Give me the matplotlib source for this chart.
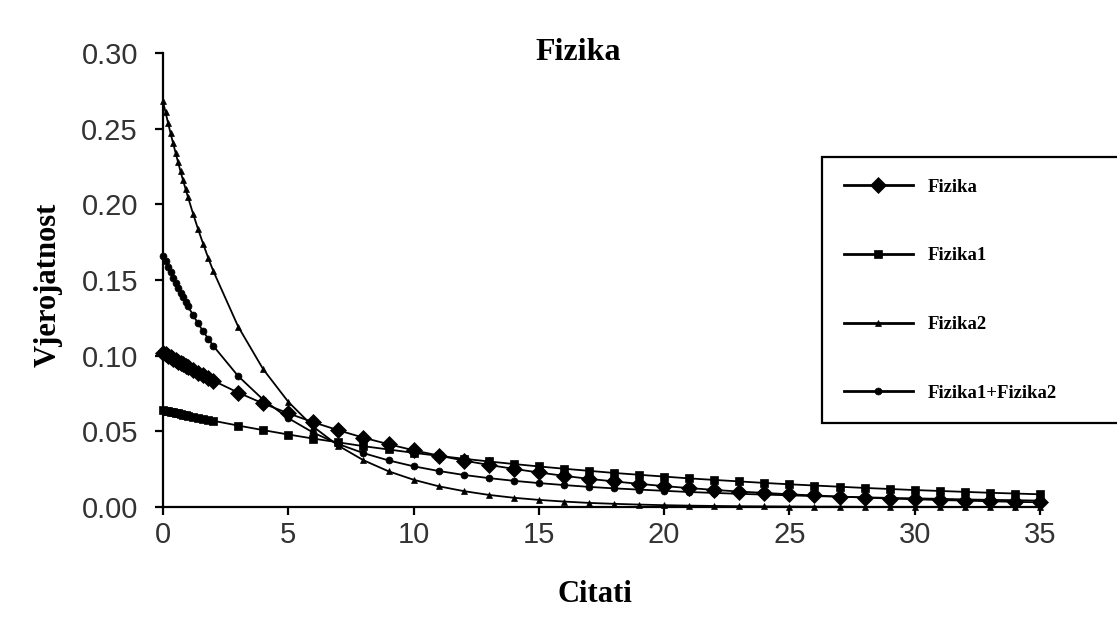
import matplotlib

matplotlib.use("Agg")
import matplotlib.pyplot as plt
from matplotlib.ticker import FormatStrFormatter

# ----------------------------------------------------------------------
# Data
# ----------------------------------------------------------------------
citati = [0, 0.1, 0.2, 0.3, 0.4, 0.5, 0.6, 0.7, 0.8, 0.9, 1.0,
          1.2, 1.4, 1.6, 1.8, 2.0,
          3, 4, 5, 6, 7, 8, 9, 10, 11, 12, 13, 14, 15, 16, 17, 18, 19,
          20, 21, 22, 23, 24, 25, 26, 27, 28, 29, 30, 31, 32, 33, 34, 35]

fizika = [0.1020, 0.1010, 0.0998, 0.0990, 0.0980, 0.0970, 0.0961, 0.0951,
          0.0942, 0.0932, 0.0923,
          0.0905, 0.0887, 0.0869, 0.0852, 0.0835,
          0.0756, 0.0684, 0.0619, 0.0560, 0.0507, 0.0458, 0.0415, 0.0375,
          0.0340, 0.0307, 0.0278, 0.0252, 0.0228, 0.0206, 0.0186, 0.0169,
          0.0153, 0.0138, 0.0125, 0.0113, 0.0102, 0.0093, 0.0084, 0.0076,
          0.0069, 0.0062, 0.0056, 0.0051, 0.0046, 0.0042, 0.0038, 0.0034,
          0.0031]

fizika1 = [0.0640, 0.0636, 0.0633, 0.0629, 0.0625, 0.0622, 0.0618, 0.0615,
           0.0611, 0.0607, 0.0604,
           0.0597, 0.0590, 0.0583, 0.0577, 0.0570,
           0.0538, 0.0508, 0.0479, 0.0452, 0.0427, 0.0402, 0.0380, 0.0358,
           0.0338, 0.0319, 0.0301, 0.0284, 0.0268, 0.0253, 0.0239, 0.0225,
           0.0213, 0.0201, 0.0189, 0.0179, 0.0169, 0.0159, 0.0150, 0.0142,
           0.0134, 0.0126, 0.0119, 0.0112, 0.0106, 0.0100, 0.0094, 0.0089,
           0.0084]

fizika2 = [0.2680, 0.2609, 0.2539, 0.2471, 0.2406, 0.2342, 0.2279, 0.2218,
           0.2159, 0.2102, 0.2046,
           0.1938, 0.1836, 0.1740, 0.1648, 0.1562,
           0.1192, 0.0910, 0.0695, 0.0530, 0.0405, 0.0309, 0.0236, 0.0180,
           0.0137, 0.0105, 0.0080, 0.0061, 0.0047, 0.0036, 0.0027, 0.0021,
           0.0016, 0.0012, 0.0009, 0.0007, 0.0005, 0.0004, 0.0003, 0.0002,
           0.0002, 0.0001, 0.0001, 0.0001, 0.0001, 0.0000, 0.0000, 0.0000,
           0.0000]

fizika12 = [0.1660, 0.1623, 0.1586, 0.1550, 0.1516, 0.1482, 0.1449, 0.1417,
            0.1385, 0.1355, 0.1325,
            0.1268, 0.1213, 0.1162, 0.1113, 0.1066,
            0.0865, 0.0709, 0.0587, 0.0491, 0.0416, 0.0356, 0.0308, 0.0269,
            0.0238, 0.0212, 0.0191, 0.0173, 0.0158, 0.0145, 0.0133, 0.0123,
            0.0115, 0.0107, 0.0099, 0.0093, 0.0087, 0.0082, 0.0077, 0.0072,
            0.0068, 0.0064, 0.0060, 0.0057, 0.0054, 0.0050, 0.0047, 0.0045,
            0.0042]

series = [
    ("Fizika", fizika, "D", 8.0),
    ("Fizika1", fizika1, "s", 6.0),
    ("Fizika2", fizika2, "^", 5.0),
    ("Fizika1+Fizika2", fizika12, "o", 5.0),
]

x_ticks = [0, 5, 10, 15, 20, 25, 30, 35]
y_ticks = [0.00, 0.05, 0.10, 0.15, 0.20, 0.25, 0.30]

SERIF = ["Liberation Serif", "DejaVu Serif"]
SANS = ["Liberation Sans", "DejaVu Sans"]

# ----------------------------------------------------------------------
# Figure
# ----------------------------------------------------------------------
fig = plt.figure(figsize=(11.17, 6.21), dpi=100)
fig.patch.set_facecolor("white")
ax = fig.add_axes([163 / 1117, 1 - 507 / 621, 877 / 1117, 454 / 621])

for label, ys, marker, ms in series:
    ax.plot(citati, ys, color="black", linewidth=1.3, marker=marker,
            markersize=ms, markeredgewidth=0.5, label=label, clip_on=False,
            zorder=3)

ax.set_xlim(0, 35)
ax.set_ylim(0, 0.30)
ax.set_xticks(x_ticks)
ax.set_yticks(y_ticks)
ax.yaxis.set_major_formatter(FormatStrFormatter("%.2f"))

ax.spines["top"].set_visible(False)
ax.spines["right"].set_visible(False)
for side in ("left", "bottom"):
    ax.spines[side].set_linewidth(1.6)
ax.tick_params(axis="both", direction="out", length=6, width=1.6,
               labelsize=21, colors="black")
ax.tick_params(axis="y", pad=12)
ax.tick_params(axis="x", pad=4)
for lab in ax.get_xticklabels() + ax.get_yticklabels():
    lab.set_family(SANS)
    lab.set_color("#333333")

ax.text(0.473, 1.0, "Fizika", transform=ax.transAxes, ha="center",
        va="center", fontsize=23, fontweight="bold", family=SERIF)
ax.set_ylabel("Vjerojatnost", fontsize=22, fontweight="bold", family=SERIF)
ax.yaxis.set_label_coords(-0.115, 0.489)
ax.set_xlabel("Citati", fontsize=22, fontweight="bold", family=SERIF)
ax.xaxis.set_label_coords(0.4926, -0.161)

leg = ax.legend(
    loc="upper left",
    bbox_to_anchor=(822 / 1117, 1 - 157 / 621, 0.3, 0.0),
    bbox_transform=fig.transFigure,
    mode="expand",
    borderaxespad=0,
    numpoints=1,
    handlelength=3.7,
    handletextpad=0.8,
    labelspacing=2.75,
    borderpad=1.15,
    fancybox=False,
    framealpha=1,
    edgecolor="black",
    prop={"family": SERIF, "weight": "bold", "size": 13.5},
)
leg.get_frame().set_linewidth(1.6)
for line in leg.get_lines():
    line.set_linewidth(2.0)

fig.savefig("out.png", dpi=100)
